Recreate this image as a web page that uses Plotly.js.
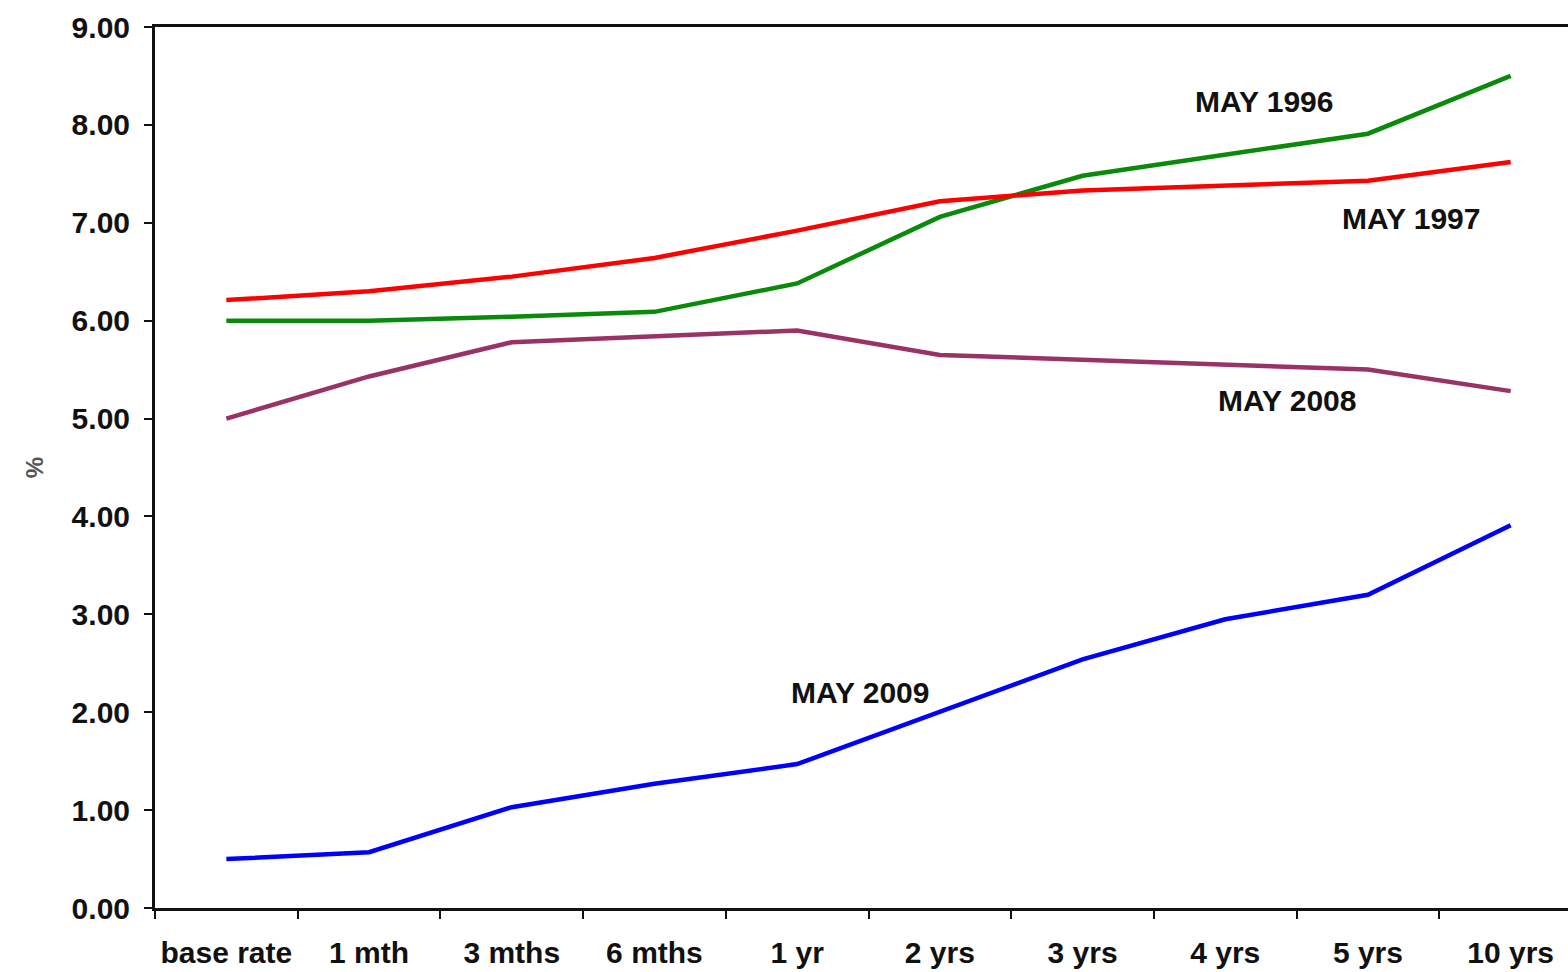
<!DOCTYPE html>
<html><head><meta charset="utf-8">
<script src="https://cdn.plot.ly/plotly-3.0.1.min.js"></script>
<style>html,body{margin:0;padding:0;overflow:hidden;background:#fff}#chart{width:1600px;height:972px}</style>
</head><body><div id="chart"></div>
<script>
const categories = ["base rate","1 mth","3 mths","6 mths","1 yr","2 yrs","3 yrs","4 yrs","5 yrs","10 yrs"];
const may1996 = [6.00,6.00,6.04,6.09,6.38,7.06,7.48,7.70,7.91,8.50];
const may1997 = [6.21,6.30,6.45,6.64,6.92,7.22,7.33,7.38,7.43,7.62];
const may2008 = [5.00,5.43,5.78,5.84,5.90,5.65,5.60,5.55,5.50,5.28];
const may2009 = [0.50,0.57,1.03,1.27,1.47,2.00,2.54,2.95,3.20,3.91];
const seriesNames = ["MAY 1996","MAY 1997","MAY 2008","MAY 2009"];

const font = {family:"Liberation Sans, Arial, sans-serif", weight:"bold", color:"#111"};
function tr(y,color,name){return {x:categories,y:y,type:"scatter",mode:"lines",name:name,line:{color:color,width:4.5},hoverinfo:"skip"};}
const data = [
  tr(may1996,"#0a8a0a",seriesNames[0]),
  tr(may1997,"#ff0000",seriesNames[1]),
  tr(may2008,"#993366",seriesNames[2]),
  tr(may2009,"#0000ff",seriesNames[3])
];
const ann = (t,x,y)=>({text:t,x:x,y:y,xref:"x",yref:"y",showarrow:false,font:Object.assign({},font,{size:30})});
const layout = {
  width:1600,height:972,
  margin:{l:155,r:18,t:27,b:64},
  paper_bgcolor:"#fff",plot_bgcolor:"#fff",
  showlegend:false,
  font:font,
  xaxis:{type:"category",range:[-0.5,9.5],showgrid:false,zeroline:false,showline:true,linecolor:"#111",linewidth:3,mirror:true,
    ticks:"outside",tickson:"boundaries",ticklen:8,tickwidth:2,tickcolor:"#111",ticklabelstandoff:16,
    tickfont:Object.assign({},font,{size:30}),fixedrange:true},
  yaxis:{range:[0,9],dtick:1,tickformat:".2f",showgrid:false,zeroline:false,showline:true,linecolor:"#111",linewidth:3,
    ticks:"outside",ticklen:8,tickwidth:2,tickcolor:"#111",ticklabelstandoff:8,tickfont:Object.assign({},font,{size:30}),
    title:{text:"%",font:{family:"Liberation Sans, Arial, sans-serif",size:24,color:"#555"},standoff:22},fixedrange:true},
  annotations:[
    ann(seriesNames[0],7.27,8.24),
    ann(seriesNames[1],8.30,7.04),
    ann(seriesNames[2],7.43,5.18),
    ann(seriesNames[3],4.44,2.20)
  ]
};
Plotly.newPlot("chart",data,layout,{staticPlot:true,displayModeBar:false});
</script></body></html>
